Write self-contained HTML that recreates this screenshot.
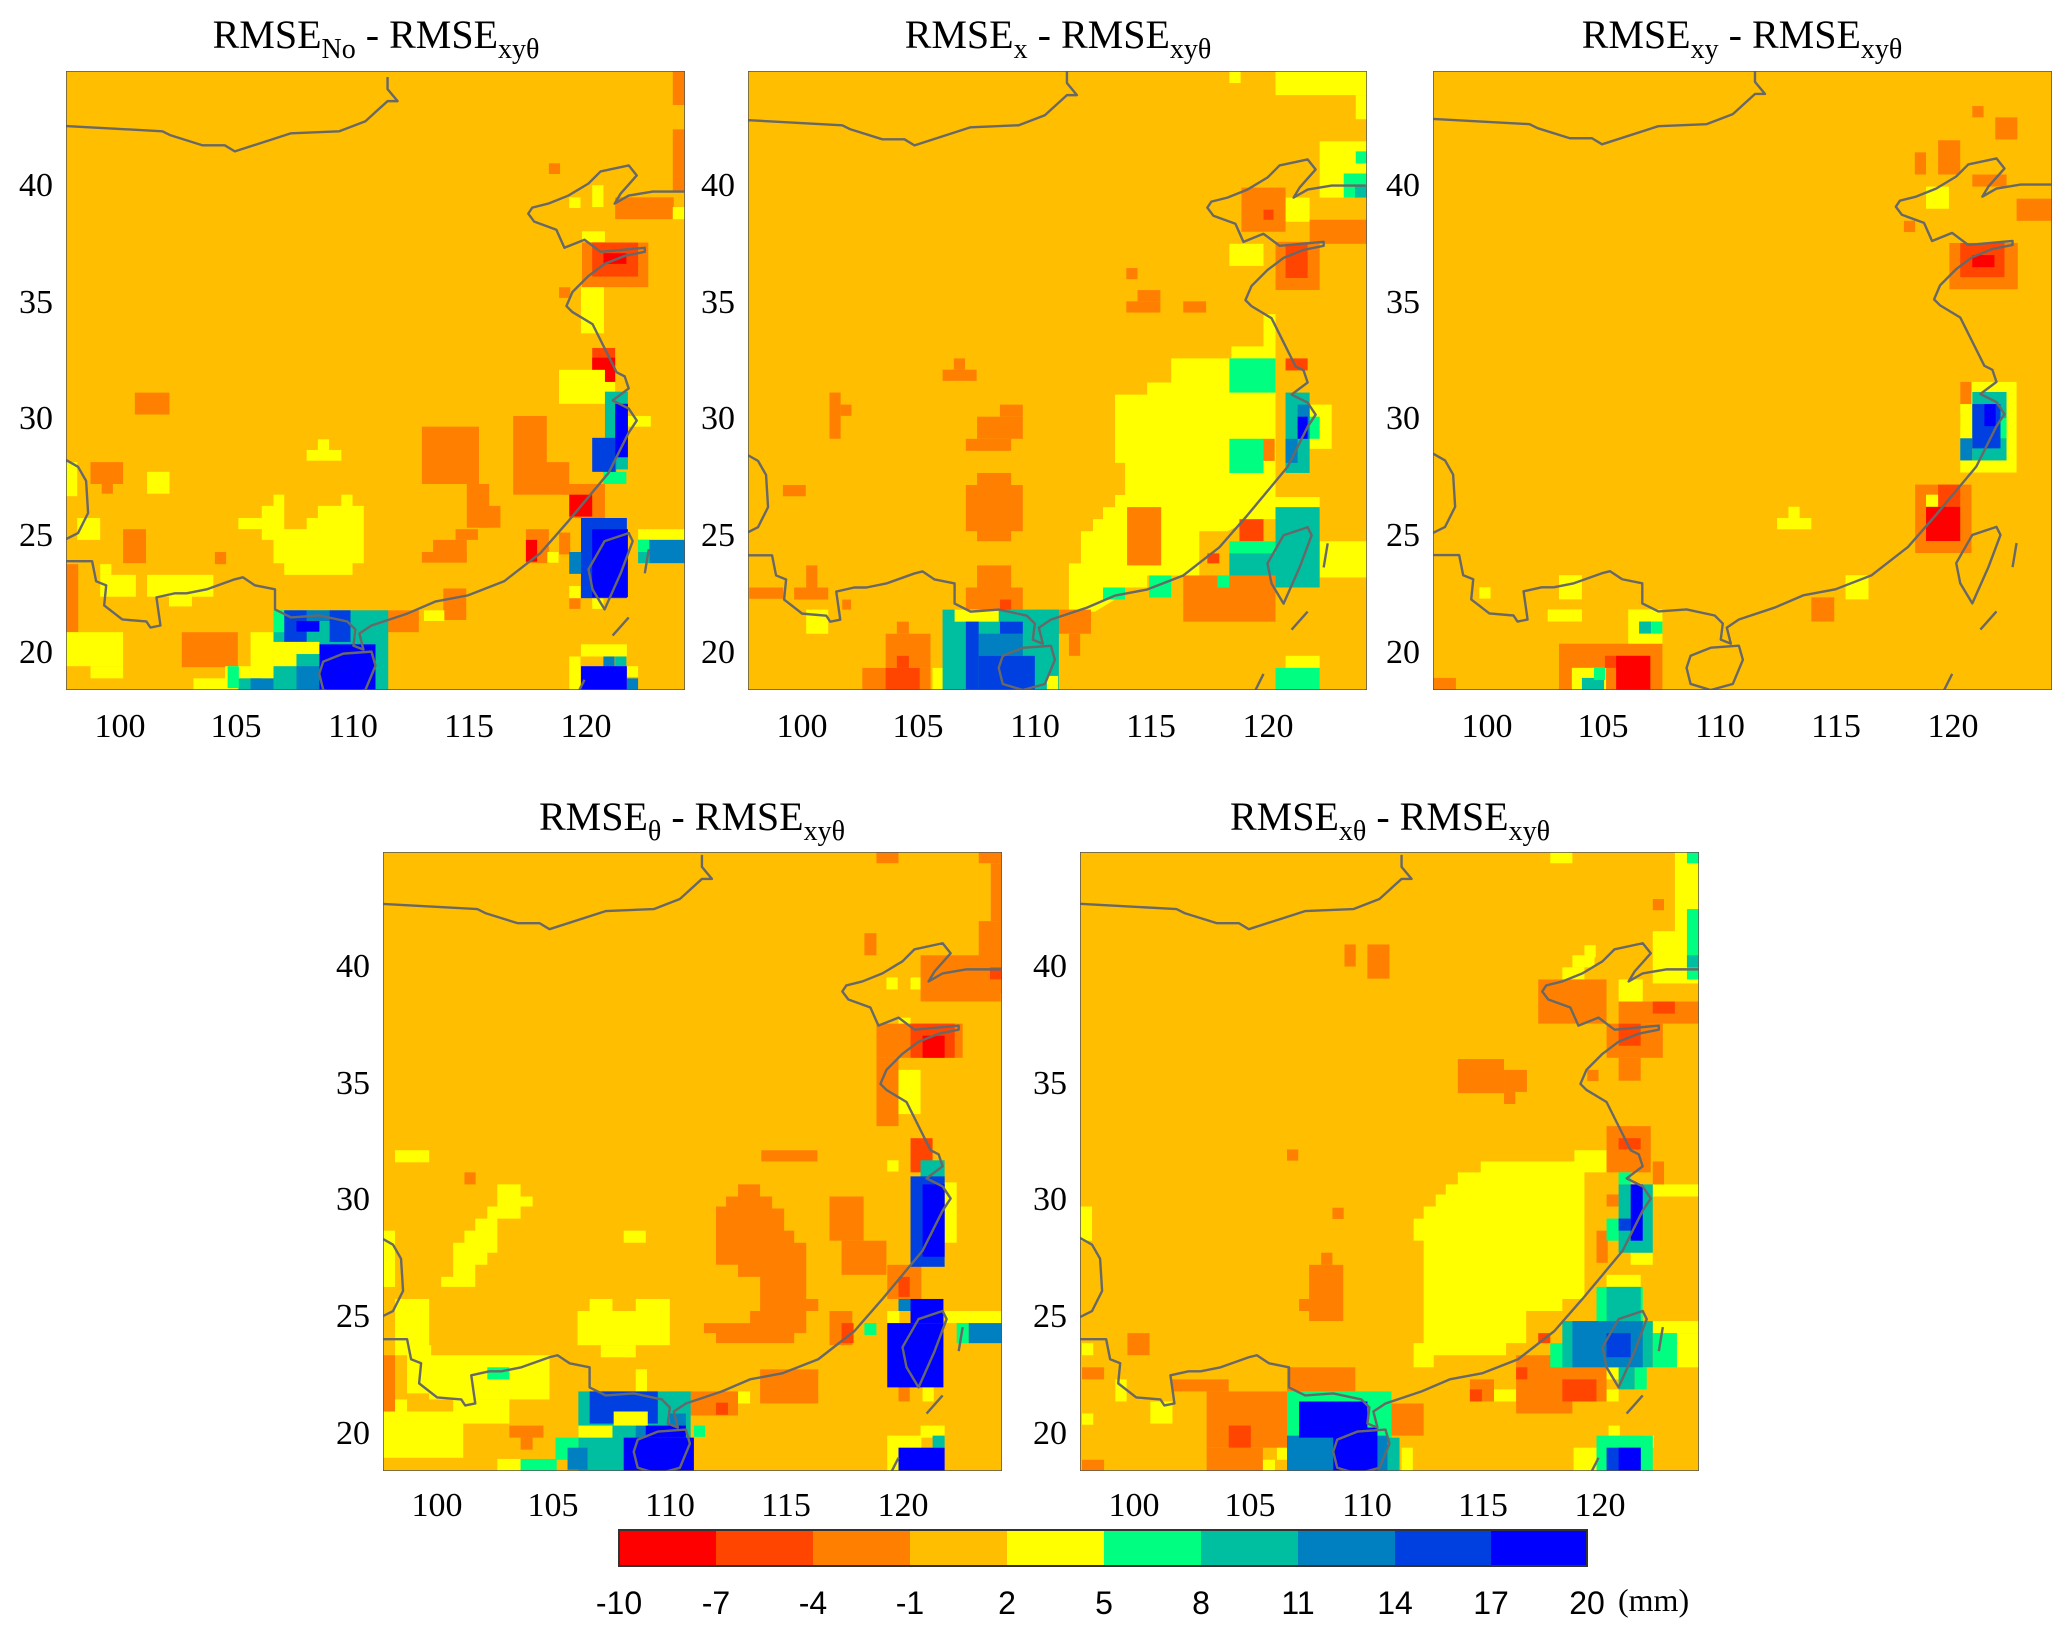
<!DOCTYPE html>
<html><head><meta charset="utf-8"><style>
html,body{margin:0;padding:0;background:#fff}
svg text{font-family:"Liberation Serif",serif;fill:#000}
</style></head><body>
<svg width="2067" height="1635" xmlns="http://www.w3.org/2000/svg">
<defs>
<g id="coast" fill="none" stroke="#686868" stroke-width="2.4" vector-effect="non-scaling-stroke" stroke-linejoin="round">
<polyline vector-effect="non-scaling-stroke" points="0,137 240,150 260,160 340,185 395,185 420,200 560,155 680,150 745,125 800,75 825,75 800,45 800,15"/>
<polyline vector-effect="non-scaling-stroke" points="0,968 30,985 50,1020 55,1100 30,1150 0,1165"/>
<polyline vector-effect="non-scaling-stroke" points="0,1220 65,1220 75,1270 100,1280 95,1330 140,1365 200,1370 210,1385 235,1380 225,1310 270,1300 300,1300 350,1290 420,1265 440,1260 470,1280 520,1290 520,1340 560,1360 630,1355 700,1370 720,1390 715,1430 740,1440 730,1400 760,1380 850,1350 920,1320 1000,1305 1090,1270 1180,1200 1250,1120 1300,1060 1350,1000 1400,900 1420,870 1400,840 1360,820 1400,790 1390,760 1370,750 1340,690 1310,630 1260,600 1245,585 1260,550 1300,510 1340,480 1390,460 1440,450 1440,440 1330,450 1290,420 1240,440 1220,395 1165,375 1150,355 1160,340 1200,330 1250,310 1300,280 1330,250 1400,235 1420,260 1380,305 1365,330 1400,310 1460,300 1545,300"/>
<polygon vector-effect="non-scaling-stroke" points="640,1470 690,1450 760,1445 770,1480 745,1540 690,1555 640,1540 630,1500"/>
<polygon vector-effect="non-scaling-stroke" points="1400,1150 1410,1170 1380,1250 1340,1340 1310,1290 1300,1240 1340,1170"/>
<polyline vector-effect="non-scaling-stroke" points="1450,1190 1440,1250"/>
<polyline vector-effect="non-scaling-stroke" points="1400,1360 1360,1405"/>
<polyline vector-effect="non-scaling-stroke" points="1290,1515 1270,1555"/>
</g>
</defs>

<!-- Panel 1 -->
<svg x="66" y="71" width="619" height="619" viewBox="128 150 1214 1274" preserveAspectRatio="none">
<rect x="0" y="0" width="2000" height="2000" fill="#FFBF00"/>
<polygon fill="#FFFF00" points="466,1070 512,1070 512,1045 535,1045 535,1022 556,1022 556,1093 600,1093 600,1070 622,1070 622,1045 668,1045 668,1022 690,1022 690,1045 712,1045 712,1163 690,1163 690,1187 556,1187 556,1163 535,1163 535,1115 512,1115 512,1093 466,1093"/>
<g fill="#FFFF00"><rect x="600" y="930" width="68" height="22"/><rect x="622" y="908" width="22" height="22"/></g>
<g fill="#FF8000">
<rect x="826" y="882" width="112" height="118"/><rect x="914" y="1000" width="44" height="90"/><rect x="936" y="1045" width="44" height="45"/><rect x="892" y="1093" width="44" height="22"/><rect x="848" y="1115" width="66" height="45"/><rect x="826" y="1140" width="88" height="22"/>
<rect x="1005" y="860" width="66" height="162"/><rect x="1070" y="955" width="45" height="67"/><rect x="1100" y="1000" width="40" height="22"/>
<rect x="1030" y="1093" width="45" height="70"/><rect x="1095" y="1100" width="22" height="45"/><rect x="1115" y="1000" width="70" height="70"/>
<rect x="1140" y="503" width="130" height="92"/><rect x="1095" y="595" width="22" height="22"/>
<rect x="1205" y="410" width="115" height="45"/><rect x="1075" y="340" width="22" height="22"/><rect x="1318" y="270" width="24" height="130"/><rect x="1318" y="150" width="24" height="70"/>
<rect x="263" y="812" width="68" height="45"/><rect x="176" y="955" width="64" height="45"/><rect x="198" y="998" width="22" height="22"/>
<rect x="240" y="1093" width="45" height="70"/><rect x="420" y="1140" width="22" height="25"/><rect x="128" y="1165" width="24" height="140"/>
<rect x="355" y="1305" width="110" height="72"/><rect x="535" y="1375" width="22" height="22"/><rect x="690" y="1260" width="130" height="45"/><rect x="868" y="1215" width="45" height="65"/>
<rect x="1115" y="1235" width="22" height="22"/>
</g>
<g fill="#FF4500"><rect x="1160" y="720" width="45" height="70"/><rect x="1160" y="503" width="90" height="70"/></g>
<g fill="#FF0000"><rect x="1030" y="1115" width="22" height="45"/><rect x="1160" y="740" width="45" height="50"/><rect x="1115" y="1022" width="45" height="45"/><rect x="1182" y="525" width="45" height="22"/></g>
<g fill="#FFFF00">
<rect x="1072" y="1140" width="22" height="22"/><rect x="1095" y="765" width="90" height="70"/><rect x="1160" y="790" width="45" height="22"/><rect x="1230" y="860" width="45" height="22"/>
<rect x="1140" y="480" width="45" height="22"/><rect x="1138" y="595" width="45" height="95"/><rect x="1115" y="410" width="22" height="22"/><rect x="1160" y="385" width="22" height="45"/><rect x="1318" y="430" width="24" height="25"/>
<rect x="287" y="975" width="44" height="45"/><rect x="128" y="955" width="22" height="70"/><rect x="150" y="1070" width="45" height="45"/>
<rect x="195" y="1165" width="22" height="22"/><rect x="195" y="1187" width="70" height="45"/><rect x="287" y="1187" width="130" height="45"/><rect x="330" y="1230" width="45" height="22"/>
<rect x="128" y="1305" width="112" height="70"/><rect x="176" y="1375" width="64" height="25"/>
<rect x="490" y="1305" width="45" height="120"/><rect x="440" y="1375" width="50" height="50"/><rect x="378" y="1400" width="68" height="24"/><rect x="830" y="1260" width="40" height="22"/>
<rect x="1250" y="1093" width="92" height="22"/><rect x="1115" y="1210" width="22" height="25"/><rect x="1160" y="1235" width="22" height="22"/>
<rect x="1138" y="1330" width="90" height="25"/><rect x="1115" y="1355" width="22" height="69"/><rect x="1228" y="1375" width="22" height="22"/>
</g>
<g fill="#00BFA0"><rect x="1185" y="810" width="45" height="160"/><rect x="535" y="1260" width="225" height="164"/><rect x="1250" y="1115" width="22" height="48"/><rect x="466" y="1400" width="45" height="24"/><rect x="1205" y="1355" width="22" height="22"/></g>
<g fill="#00FF80"><rect x="1182" y="975" width="45" height="25"/><rect x="1205" y="1140" width="22" height="22"/><rect x="535" y="1260" width="22" height="45"/><rect x="445" y="1375" width="22" height="45"/><rect x="1250" y="1115" width="22" height="25"/></g>
<g fill="#0080C0"><rect x="1185" y="930" width="22" height="45"/><rect x="1115" y="1140" width="45" height="45"/><rect x="1272" y="1115" width="70" height="48"/><rect x="600" y="1260" width="45" height="22"/><rect x="580" y="1375" width="45" height="49"/><rect x="490" y="1400" width="45" height="24"/><rect x="1182" y="1355" width="22" height="22"/><rect x="1228" y="1400" width="22" height="24"/></g>
<g fill="#0040E0"><rect x="1160" y="905" width="45" height="70"/><rect x="1138" y="1070" width="90" height="165"/><rect x="556" y="1260" width="44" height="65"/><rect x="645" y="1260" width="41" height="65"/></g>
<g fill="#0000FF"><rect x="1205" y="835" width="25" height="110"/><rect x="1160" y="1093" width="70" height="140"/><rect x="580" y="1282" width="45" height="22"/><rect x="625" y="1330" width="110" height="94"/><rect x="1138" y="1375" width="90" height="49"/></g>
<g fill="#FFFF00"><rect x="580" y="1325" width="45" height="25"/><rect x="535" y="1325" width="45" height="50"/></g>
<g transform="translate(128,150) scale(0.7883,0.827)"><use href="#coast"/></g>
<rect x="128" y="150" width="1214" height="1274" fill="none" stroke="#555" stroke-width="1.5" vector-effect="non-scaling-stroke"/>
</svg>

<!-- Panel 2 -->
<svg x="748" y="71" width="619" height="619" viewBox="5 15 1543 1540" preserveAspectRatio="none">
<rect x="0" y="0" width="2000" height="2000" fill="#FFBF00"/>
<polygon fill="#FFFF00" points="920,820 1000,820 1000,790 1060,790 1060,730 1210,730 1210,700 1290,700 1290,620 1320,620 1320,1130 1260,1130 1200,1160 1130,1160 1130,1270 1000,1270 1000,1300 920,1300 920,1330 870,1360 805,1360 805,1240 835,1240 835,1160 865,1160 865,1130 890,1130 890,1100 920,1100 920,1070 945,1070 945,990 920,990"/>
<g fill="#FFFF00"><rect x="1320" y="1075" width="110" height="30"/><rect x="1430" y="1185" width="118" height="90"/><rect x="1205" y="445" width="85" height="55"/><rect x="1320" y="15" width="228" height="60"/><rect x="1520" y="75" width="28" height="60"/><rect x="1430" y="190" width="118" height="140"/><rect x="1345" y="330" width="60" height="60"/><rect x="150" y="1355" width="55" height="60"/><rect x="1345" y="1470" width="85" height="30"/><rect x="1205" y="15" width="28" height="30"/><rect x="1405" y="845" width="55" height="110"/></g>
<g fill="#FF8000">
<rect x="950" y="1100" width="85" height="145"/><rect x="1090" y="1270" width="230" height="115"/><rect x="1320" y="440" width="110" height="120"/><rect x="1235" y="305" width="110" height="110"/><rect x="1405" y="385" width="145" height="60"/>
<rect x="948" y="505" width="28" height="28"/><rect x="948" y="588" width="85" height="28"/><rect x="976" y="560" width="57" height="28"/><rect x="1090" y="588" width="57" height="28"/><rect x="490" y="758" width="85" height="28"/><rect x="518" y="730" width="28" height="28"/><rect x="208" y="815" width="28" height="115"/><rect x="236" y="845" width="27" height="28"/>
<rect x="548" y="930" width="113" height="30"/><rect x="576" y="875" width="114" height="55"/><rect x="633" y="845" width="57" height="30"/>
<rect x="548" y="1045" width="142" height="115"/><rect x="576" y="1015" width="85" height="170"/><rect x="92" y="1045" width="57" height="28"/><rect x="548" y="1300" width="142" height="60"/><rect x="576" y="1245" width="85" height="55"/><rect x="8" y="1300" width="85" height="28"/><rect x="120" y="1300" width="85" height="30"/><rect x="150" y="1245" width="28" height="55"/><rect x="1290" y="930" width="28" height="55"/>
<rect x="290" y="1500" width="170" height="55"/><rect x="348" y="1415" width="112" height="85"/><rect x="376" y="1385" width="30" height="30"/><rect x="720" y="1355" width="140" height="60"/><rect x="805" y="1415" width="28" height="55"/><rect x="240" y="1330" width="22" height="25"/>
</g>
<g fill="#FF4500"><rect x="1345" y="445" width="55" height="85"/><rect x="1290" y="360" width="25" height="25"/><rect x="348" y="1500" width="85" height="55"/><rect x="376" y="1470" width="30" height="30"/><rect x="1345" y="730" width="55" height="30"/><rect x="1230" y="1130" width="60" height="55"/><rect x="1150" y="1215" width="30" height="25"/><rect x="633" y="1330" width="28" height="25"/><rect x="750" y="1385" width="25" height="30"/></g>
<g fill="#00FF80"><rect x="1205" y="730" width="115" height="85"/><rect x="1205" y="930" width="85" height="85"/><rect x="1205" y="1185" width="115" height="85"/><rect x="1490" y="270" width="58" height="60"/><rect x="1520" y="215" width="28" height="30"/><rect x="1320" y="1500" width="110" height="55"/><rect x="750" y="1440" width="28" height="80"/><rect x="890" y="1300" width="55" height="30"/><rect x="1005" y="1270" width="55" height="55"/><rect x="1175" y="1270" width="30" height="30"/><rect x="1405" y="875" width="25" height="55"/></g>
<g fill="#00BFA0"><rect x="1345" y="815" width="60" height="200"/><rect x="1320" y="1100" width="110" height="200"/><rect x="1205" y="1215" width="115" height="55"/><rect x="1518" y="300" width="30" height="30"/><rect x="490" y="1355" width="290" height="200"/></g>
<g fill="#FFFF00"><rect x="520" y="1355" width="110" height="30"/><rect x="465" y="1500" width="25" height="55"/><rect x="750" y="1520" width="28" height="35"/></g>
<g fill="#0080C0"><rect x="1375" y="845" width="30" height="85"/><rect x="1345" y="930" width="30" height="60"/><rect x="580" y="1415" width="110" height="55"/></g>
<g fill="#0040E0"><rect x="548" y="1385" width="32" height="170"/><rect x="580" y="1470" width="140" height="85"/><rect x="633" y="1385" width="57" height="30"/></g>
<rect x="1375" y="875" width="25" height="55" fill="#0000FF"/>
<use href="#coast"/>
<rect x="5" y="15" width="1543" height="1540" fill="none" stroke="#555" stroke-width="1.5" vector-effect="non-scaling-stroke"/>
</svg>

<!-- Panel 3 -->
<svg x="1433" y="71" width="619" height="619" viewBox="0 18 1538 1537" preserveAspectRatio="none">
<rect x="0" y="0" width="2000" height="2000" fill="#FFBF00"/>
<g fill="#FF8000"><rect x="1340" y="105" width="28" height="28"/><rect x="1397" y="133" width="55" height="55"/><rect x="1197" y="220" width="28" height="55"/><rect x="1255" y="190" width="55" height="85"/><rect x="1340" y="275" width="85" height="30"/><rect x="1450" y="335" width="88" height="55"/><rect x="1170" y="390" width="28" height="28"/><rect x="1283" y="445" width="170" height="115"/><rect x="1198" y="1045" width="140" height="170"/><rect x="940" y="1325" width="57" height="60"/><rect x="313" y="1440" width="257" height="115"/><rect x="0" y="1525" width="57" height="30"/><rect x="1310" y="790" width="28" height="55"/><rect x="1310" y="870" width="28" height="30"/></g>
<g fill="#FFFF00"><rect x="1225" y="305" width="57" height="55"/><rect x="1310" y="790" width="140" height="225"/><rect x="855" y="1128" width="85" height="28"/><rect x="883" y="1100" width="28" height="28"/><rect x="1025" y="1270" width="57" height="60"/><rect x="313" y="1270" width="57" height="60"/><rect x="115" y="1300" width="28" height="28"/><rect x="285" y="1355" width="85" height="30"/><rect x="485" y="1355" width="85" height="85"/><rect x="345" y="1500" width="85" height="55"/></g>
<rect x="1310" y="790" width="28" height="55" fill="#FF8000"/>
<g fill="#FF4500"><rect x="1310" y="445" width="110" height="85"/><rect x="1255" y="1045" width="55" height="55"/><rect x="427" y="1470" width="30" height="30"/></g>
<g fill="#FF0000"><rect x="1340" y="475" width="55" height="30"/><rect x="1225" y="1100" width="85" height="85"/><rect x="455" y="1470" width="85" height="85"/></g>
<rect x="1225" y="1070" width="30" height="30" fill="#FFFF00"/>
<g fill="#00BFA0"><rect x="1340" y="815" width="85" height="170"/><rect x="512" y="1385" width="30" height="30"/><rect x="370" y="1525" width="55" height="30"/></g>
<g fill="#00FF80"><rect x="542" y="1385" width="28" height="30"/><rect x="400" y="1500" width="28" height="30"/><rect x="1405" y="880" width="20" height="50"/></g>
<rect x="1310" y="930" width="30" height="55" fill="#0080C0"/>
<rect x="1340" y="845" width="70" height="110" fill="#0040E0"/>
<rect x="1370" y="845" width="28" height="55" fill="#0000FF"/>
<use href="#coast"/>
<rect x="0" y="18" width="1538" height="1537" fill="none" stroke="#555" stroke-width="1.5" vector-effect="non-scaling-stroke"/>
</svg>

<!-- Panel 4 -->
<svg x="383" y="852" width="619" height="619" viewBox="5 8 1543 1540" preserveAspectRatio="none">
<rect x="0" y="0" width="2000" height="2000" fill="#FFBF00"/>
<g fill="#FFFF00">
<polygon points="290,835 348,835 348,865 378,865 378,890 348,890 348,920 290,920 290,1005 265,1005 265,1035 235,1035 235,1090 150,1090 150,1065 180,1065 180,980 208,980 208,950 235,950 235,920 265,920 265,890 290,890"/>
<rect x="35" y="750" width="85" height="30"/><rect x="605" y="950" width="55" height="30"/>
<rect x="490" y="1150" width="230" height="85"/><rect x="520" y="1120" width="57" height="30"/><rect x="635" y="1120" width="85" height="30"/><rect x="548" y="1235" width="85" height="30"/><rect x="605" y="1235" width="30" height="30"/>
<rect x="5" y="950" width="30" height="140"/><rect x="35" y="1120" width="85" height="140"/><rect x="65" y="1235" width="60" height="120"/><rect x="120" y="1260" width="300" height="110"/><rect x="180" y="1370" width="140" height="60"/><rect x="5" y="1400" width="200" height="115"/><rect x="35" y="1370" width="30" height="30"/>
<rect x="1260" y="320" width="28" height="30"/><rect x="1320" y="320" width="28" height="30"/><rect x="1290" y="550" width="55" height="110"/><rect x="1262" y="775" width="28" height="28"/><rect x="1405" y="830" width="30" height="150"/><rect x="1375" y="1000" width="30" height="30"/>
<rect x="1405" y="1150" width="143" height="30"/><rect x="1262" y="1150" width="30" height="30"/><rect x="1350" y="1320" width="28" height="55"/><rect x="1345" y="1435" width="60" height="30"/><rect x="1262" y="1460" width="85" height="88"/>
<rect x="635" y="1295" width="28" height="60"/><rect x="890" y="1350" width="30" height="30"/><rect x="290" y="1518" width="60" height="30"/><rect x="548" y="1520" width="30" height="28"/><rect x="1290" y="420" width="30" height="30"/>
</g>
<g fill="#FF8000">
<rect x="1235" y="8" width="55" height="28"/><rect x="1490" y="8" width="58" height="28"/><rect x="1490" y="180" width="58" height="180"/><rect x="1520" y="36" width="28" height="144"/><rect x="1205" y="210" width="30" height="55"/><rect x="1345" y="265" width="200" height="115"/>
<rect x="1235" y="435" width="215" height="85"/><rect x="1235" y="520" width="55" height="170"/><rect x="1262" y="1035" width="85" height="85"/><rect x="1290" y="1320" width="28" height="55"/><rect x="1320" y="860" width="30" height="30"/>
<polygon points="890,835 945,835 945,865 975,865 975,895 1005,895 1005,950 1030,950 1030,980 1060,980 1060,1120 1090,1120 1090,1150 1060,1150 1060,1205 1030,1205 1030,1230 835,1230 835,1205 805,1205 805,1180 920,1180 920,1150 945,1150 945,1065 890,1065 890,1035 835,1035 835,890 860,890 860,865 890,865"/>
<rect x="1118" y="865" width="85" height="110"/><rect x="1148" y="975" width="112" height="85"/><rect x="1118" y="1150" width="57" height="85"/><rect x="948" y="750" width="140" height="28"/><rect x="208" y="805" width="28" height="30"/>
<rect x="5" y="1260" width="30" height="140"/><rect x="320" y="1435" width="85" height="30"/><rect x="348" y="1465" width="30" height="30"/><rect x="520" y="1490" width="28" height="28"/><rect x="720" y="1350" width="170" height="60"/><rect x="945" y="1295" width="145" height="85"/>
</g>
<g fill="#FF4500"><rect x="1518" y="295" width="30" height="30"/><rect x="1320" y="435" width="110" height="85"/><rect x="1320" y="720" width="55" height="85"/><rect x="1290" y="1065" width="28" height="50"/><rect x="1148" y="1180" width="30" height="50"/><rect x="835" y="1378" width="30" height="30"/></g>
<rect x="1350" y="465" width="55" height="55" fill="#FF0000"/>
<g fill="#00BFA0"><rect x="1345" y="775" width="60" height="60"/><rect x="1320" y="1000" width="60" height="30"/><rect x="492" y="1350" width="280" height="200"/><rect x="1375" y="1460" width="30" height="30"/></g>
<g fill="#00FF80"><rect x="1262" y="1290" width="30" height="30"/><rect x="1435" y="1180" width="30" height="50"/><rect x="265" y="1290" width="55" height="30"/><rect x="348" y="1518" width="90" height="30"/><rect x="435" y="1465" width="57" height="55"/><rect x="780" y="1435" width="28" height="28"/><rect x="1205" y="1180" width="30" height="30"/></g>
<g fill="#0080C0"><rect x="1290" y="1120" width="60" height="30"/><rect x="1465" y="1180" width="83" height="50"/><rect x="465" y="1490" width="50" height="55"/><rect x="635" y="1435" width="55" height="30"/><rect x="720" y="1405" width="40" height="30"/></g>
<g fill="#0040E0"><rect x="1320" y="815" width="85" height="225"/><rect x="520" y="1350" width="170" height="80"/></g>
<g fill="#0000FF"><rect x="1350" y="835" width="55" height="180"/><rect x="1262" y="1180" width="140" height="160"/><rect x="1320" y="1120" width="82" height="60"/><rect x="605" y="1465" width="175" height="85"/><rect x="660" y="1435" width="100" height="30"/><rect x="1290" y="1490" width="115" height="58"/></g>
<g fill="#FFFF00"><rect x="580" y="1400" width="85" height="35"/><rect x="492" y="1435" width="85" height="30"/></g>
<use href="#coast"/>
<rect x="5" y="8" width="1543" height="1540" fill="none" stroke="#555" stroke-width="1.5" vector-effect="non-scaling-stroke"/>
</svg>

<!-- Panel 5 -->
<svg x="1080" y="852" width="619" height="619" viewBox="0 8 1540 1540" preserveAspectRatio="none">
<rect x="0" y="0" width="2000" height="2000" fill="#FFBF00"/>
<g fill="#FFFF00">
<rect x="1170" y="8" width="55" height="28"/><rect x="1480" y="8" width="60" height="222"/><rect x="1425" y="205" width="115" height="130"/><rect x="1200" y="295" width="55" height="30"/><rect x="1225" y="265" width="55" height="30"/><rect x="1255" y="240" width="28" height="30"/><rect x="1340" y="325" width="60" height="55"/>
<polygon points="997,778 1230,778 1230,750 1310,750 1310,805 1255,805 1255,1120 1200,1120 1200,1150 1110,1150 1110,1230 1060,1230 1060,1260 880,1260 880,1290 830,1290 830,1230 855,1230 855,975 830,975 830,920 855,920 855,890 885,890 885,860 910,860 910,835 940,835 940,805 997,805"/>
<rect x="1425" y="835" width="115" height="30"/><rect x="1370" y="1005" width="55" height="30"/><rect x="1310" y="1060" width="85" height="30"/><rect x="1425" y="1175" width="115" height="30"/><rect x="1485" y="1205" width="55" height="85"/><rect x="1285" y="1290" width="60" height="30"/><rect x="1310" y="1345" width="30" height="30"/><rect x="1140" y="1290" width="60" height="60"/>
<rect x="1030" y="1345" width="55" height="30"/><rect x="175" y="1375" width="55" height="55"/><rect x="88" y="1320" width="28" height="55"/><rect x="5" y="1405" width="28" height="28"/><rect x="5" y="1230" width="28" height="30"/><rect x="0" y="890" width="30" height="85"/><rect x="400" y="1520" width="85" height="28"/>
<rect x="1228" y="1490" width="57" height="58"/><rect x="1315" y="1435" width="28" height="28"/><rect x="1400" y="1460" width="28" height="30"/><rect x="490" y="1460" width="30" height="60"/><rect x="800" y="1490" width="28" height="58"/>
</g>
<g fill="#FF8000">
<rect x="1425" y="125" width="28" height="28"/><rect x="658" y="238" width="28" height="55"/><rect x="715" y="238" width="55" height="85"/><rect x="1140" y="325" width="170" height="110"/><rect x="1340" y="380" width="200" height="55"/><rect x="1310" y="435" width="140" height="85"/><rect x="1340" y="520" width="55" height="57"/>
<rect x="940" y="523" width="115" height="85"/><rect x="1055" y="550" width="57" height="55"/><rect x="1055" y="605" width="28" height="30"/><rect x="1262" y="550" width="28" height="28"/><rect x="515" y="748" width="28" height="28"/><rect x="628" y="893" width="28" height="28"/>
<rect x="570" y="1035" width="85" height="140"/><rect x="600" y="1005" width="28" height="30"/><rect x="545" y="1120" width="30" height="30"/>
<rect x="1310" y="690" width="110" height="115"/><rect x="1425" y="778" width="28" height="57"/><rect x="1285" y="950" width="28" height="80"/><rect x="1310" y="860" width="30" height="30"/>
<rect x="1085" y="1260" width="140" height="145"/><rect x="1200" y="1290" width="110" height="85"/><rect x="970" y="1320" width="60" height="55"/><rect x="685" y="1380" width="170" height="80"/><rect x="515" y="1290" width="170" height="60"/>
<rect x="230" y="1320" width="140" height="30"/><rect x="315" y="1350" width="200" height="140"/><rect x="315" y="1490" width="140" height="58"/><rect x="5" y="1520" width="55" height="28"/><rect x="5" y="1290" width="55" height="30"/><rect x="118" y="1205" width="55" height="55"/>
</g>
<g fill="#FF4500"><rect x="1425" y="380" width="55" height="30"/><rect x="1340" y="435" width="55" height="55"/><rect x="1340" y="720" width="55" height="28"/><rect x="1085" y="1290" width="28" height="30"/><rect x="1200" y="1320" width="85" height="55"/><rect x="970" y="1345" width="30" height="30"/><rect x="370" y="1435" width="55" height="55"/><rect x="1140" y="1205" width="30" height="25"/></g>
<g fill="#00FF80"><rect x="1510" y="8" width="30" height="28"/><rect x="1510" y="150" width="30" height="175"/><rect x="1310" y="920" width="30" height="55"/><rect x="1170" y="1230" width="60" height="60"/><rect x="1285" y="1090" width="115" height="85"/><rect x="1425" y="1205" width="60" height="85"/><rect x="1380" y="1290" width="30" height="55"/><rect x="515" y="1350" width="260" height="200"/><rect x="1285" y="1460" width="140" height="88"/><rect x="1340" y="805" width="30" height="30"/></g>
<g fill="#00BFA0"><rect x="1510" y="265" width="30" height="30"/><rect x="1340" y="835" width="85" height="170"/><rect x="1200" y="1175" width="225" height="115"/><rect x="1310" y="1090" width="85" height="85"/><rect x="1340" y="1290" width="40" height="55"/><rect x="740" y="1465" width="55" height="83"/></g>
<g fill="#0080C0"><rect x="1225" y="1175" width="175" height="115"/><rect x="515" y="1460" width="250" height="90"/></g>
<g fill="#0040E0"><rect x="1340" y="920" width="30" height="30"/><rect x="1310" y="1205" width="60" height="60"/><rect x="1310" y="1490" width="85" height="58"/></g>
<g fill="#0000FF"><rect x="1370" y="835" width="30" height="140"/><rect x="545" y="1375" width="170" height="90"/><rect x="630" y="1440" width="110" height="110"/><rect x="1340" y="1490" width="55" height="58"/></g>
<use href="#coast"/>
<rect x="0" y="8" width="1540" height="1540" fill="none" stroke="#555" stroke-width="1.5" vector-effect="non-scaling-stroke"/>
</svg>

<!-- Titles -->
<g font-size="40" text-anchor="middle">
<text x="376" y="48">RMSE<tspan font-size="28" dy="10">No</tspan><tspan dy="-10"> - RMSE</tspan><tspan font-size="28" dy="10">xyθ</tspan></text>
<text x="1058" y="48">RMSE<tspan font-size="28" dy="10">x</tspan><tspan dy="-10"> - RMSE</tspan><tspan font-size="28" dy="10">xyθ</tspan></text>
<text x="1742" y="48">RMSE<tspan font-size="28" dy="10">xy</tspan><tspan dy="-10"> - RMSE</tspan><tspan font-size="28" dy="10">xyθ</tspan></text>
<text x="692" y="830">RMSE<tspan font-size="28" dy="10">θ</tspan><tspan dy="-10"> - RMSE</tspan><tspan font-size="28" dy="10">xyθ</tspan></text>
<text x="1390" y="830">RMSE<tspan font-size="28" dy="10">xθ</tspan><tspan dy="-10"> - RMSE</tspan><tspan font-size="28" dy="10">xyθ</tspan></text>
</g>

<!-- Tick labels -->
<g font-size="34" text-anchor="middle">
<text x="120" y="737">100</text><text x="236" y="737">105</text><text x="353" y="737">110</text><text x="469" y="737">115</text><text x="586" y="737">120</text>
<text x="802" y="737">100</text><text x="918" y="737">105</text><text x="1035" y="737">110</text><text x="1151" y="737">115</text><text x="1268" y="737">120</text>
<text x="1487" y="737">100</text><text x="1603" y="737">105</text><text x="1720" y="737">110</text><text x="1836" y="737">115</text><text x="1953" y="737">120</text>
<text x="437" y="1516">100</text><text x="553" y="1516">105</text><text x="670" y="1516">110</text><text x="786" y="1516">115</text><text x="903" y="1516">120</text>
<text x="1134" y="1516">100</text><text x="1250" y="1516">105</text><text x="1367" y="1516">110</text><text x="1483" y="1516">115</text><text x="1600" y="1516">120</text>
</g>
<g font-size="34" text-anchor="end">
<text x="53" y="196">40</text><text x="53" y="313">35</text><text x="53" y="429">30</text><text x="53" y="546">25</text><text x="53" y="663">20</text>
<text x="735" y="196">40</text><text x="735" y="313">35</text><text x="735" y="429">30</text><text x="735" y="546">25</text><text x="735" y="663">20</text>
<text x="1420" y="196">40</text><text x="1420" y="313">35</text><text x="1420" y="429">30</text><text x="1420" y="546">25</text><text x="1420" y="663">20</text>
<text x="370" y="977">40</text><text x="370" y="1094">35</text><text x="370" y="1210">30</text><text x="370" y="1327">25</text><text x="370" y="1444">20</text>
<text x="1067" y="977">40</text><text x="1067" y="1094">35</text><text x="1067" y="1210">30</text><text x="1067" y="1327">25</text><text x="1067" y="1444">20</text>
</g>

<!-- Colorbar -->
<g>
<rect x="619" y="1530" width="97" height="36" fill="#FF0000"/>
<rect x="716" y="1530" width="97" height="36" fill="#FF4500"/>
<rect x="813" y="1530" width="97" height="36" fill="#FF8000"/>
<rect x="910" y="1530" width="97" height="36" fill="#FFBF00"/>
<rect x="1007" y="1530" width="97" height="36" fill="#FFFF00"/>
<rect x="1104" y="1530" width="97" height="36" fill="#00FF80"/>
<rect x="1201" y="1530" width="97" height="36" fill="#00BFA0"/>
<rect x="1298" y="1530" width="97" height="36" fill="#0080C0"/>
<rect x="1395" y="1530" width="96" height="36" fill="#0040E0"/>
<rect x="1491" y="1530" width="96" height="36" fill="#0000FF"/>
<rect x="619" y="1530" width="968" height="36" fill="none" stroke="#333" stroke-width="2"/>
</g>
<g font-size="32" text-anchor="middle">
<text x="619" y="1614" style="font-family:'Liberation Sans',sans-serif">-10</text>
<text x="716" y="1614" style="font-family:'Liberation Sans',sans-serif">-7</text>
<text x="813" y="1614" style="font-family:'Liberation Sans',sans-serif">-4</text>
<text x="910" y="1614" style="font-family:'Liberation Sans',sans-serif">-1</text>
<text x="1007" y="1614" style="font-family:'Liberation Sans',sans-serif">2</text>
<text x="1104" y="1614" style="font-family:'Liberation Sans',sans-serif">5</text>
<text x="1201" y="1614" style="font-family:'Liberation Sans',sans-serif">8</text>
<text x="1298" y="1614" style="font-family:'Liberation Sans',sans-serif">11</text>
<text x="1395" y="1614" style="font-family:'Liberation Sans',sans-serif">14</text>
<text x="1491" y="1614" style="font-family:'Liberation Sans',sans-serif">17</text>
<text x="1587" y="1614" style="font-family:'Liberation Sans',sans-serif">20</text>
</g>
<text x="1618" y="1611" font-size="32">(mm)</text>
</svg>
</body></html>
